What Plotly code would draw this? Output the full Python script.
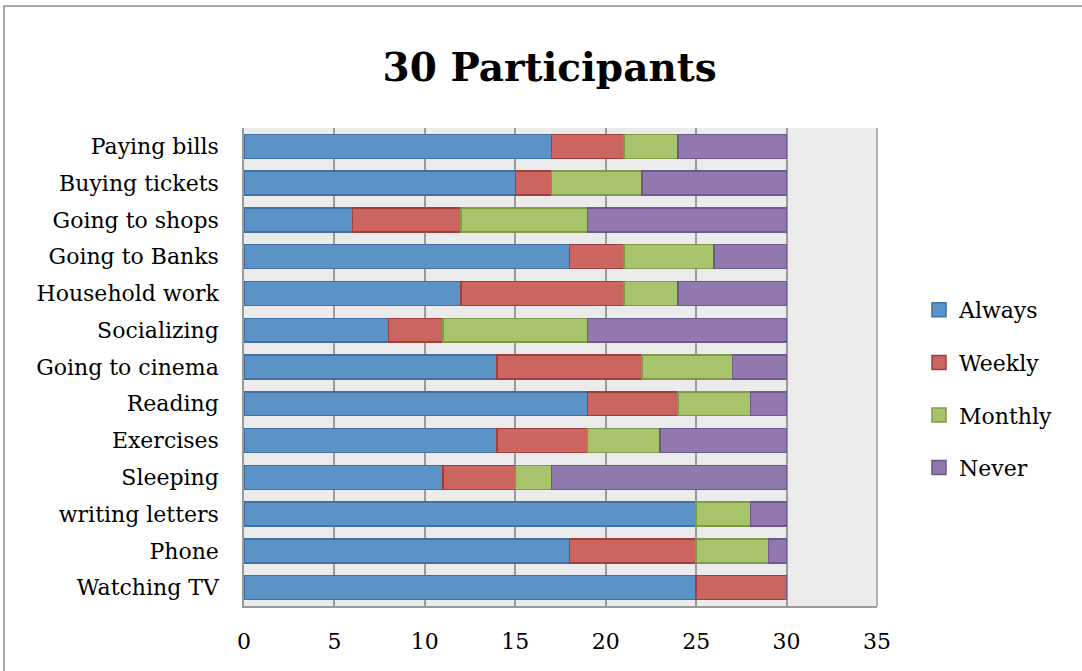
import plotly.graph_objects as go

categories = ["Watching TV", "Phone", "writing letters", "Sleeping", "Exercises", "Reading",
              "Going to cinema", "Socializing", "Household work", "Going to Banks",
              "Going to shops", "Buying tickets", "Paying bills"]
always = [25, 18, 25, 11, 14, 19, 14, 8, 12, 18, 6, 15, 17]
weekly = [5, 7, 0, 4, 5, 5, 8, 3, 9, 3, 6, 2, 4]
monthly = [0, 4, 3, 2, 4, 4, 5, 8, 3, 5, 7, 5, 3]
never = [0, 1, 2, 13, 7, 2, 3, 11, 6, 4, 11, 8, 6]
x_ticks = [0, 5, 10, 15, 20, 25, 30, 35]

series = [
    ("Always", always, "#5b93c8", "#41719c"),
    ("Weekly", weekly, "#cc6560", "#a0403c"),
    ("Monthly", monthly, "#a8c46a", "#7f9a48"),
    ("Never", never, "#9179b0", "#6c5a8a"),
]

FONT = "DejaVu Serif"
fig = go.Figure()
for i, (name, vals, fill, line) in enumerate(series):
    fig.add_trace(go.Bar(
        y=categories, x=vals, name=name, orientation="h",
        marker=dict(color=fill, line=dict(color=line, width=1.5)),
        legendgroup=f"g{i}", showlegend=False,
    ))
# legend entries with larger square swatches
for i, (name, vals, fill, line) in enumerate(series):
    fig.add_trace(go.Scatter(
        x=[None], y=[None], mode="markers", name=name,
        marker=dict(symbol="square", size=14, color=fill, line=dict(color=line, width=1.5)),
        legendgroup=f"g{i}", showlegend=True, hoverinfo="skip",
    ))

L, R, T, B = 244, 877, 128, 606
W, H = 1082, 671

def px_to_paper_x(px):
    return (px - L) / (R - L)

def px_to_paper_y(py):
    return (B - py) / (B - T)

fig.update_layout(
    width=W, height=H,
    margin=dict(l=L, r=W - R, t=T, b=H - B, autoexpand=False),
    barmode="stack", bargap=0.35,
    paper_bgcolor="white", plot_bgcolor="#ebebeb",
    font=dict(family=FONT, size=22, color="black"),
    title=dict(text="<b>30 Participants</b>", x=0.508, xanchor="center",
               y=1 - 67 / H, yanchor="middle",
               font=dict(family=FONT, size=39, color="black")),
    legend=dict(x=px_to_paper_x(919), xanchor="left", y=px_to_paper_y(289), yanchor="top",
                traceorder="grouped", tracegroupgap=21, font=dict(size=22),
                itemwidth=30, itemsizing="trace", bgcolor="rgba(0,0,0,0)"),
    xaxis=dict(range=[0, 35], tickvals=x_ticks, showgrid=True, gridcolor="#9a9a9a",
               gridwidth=1.5, zeroline=False, showline=True, linecolor="#9a9a9a",
               linewidth=1.5, ticks="", ticklabelstandoff=15, mirror=False,
               fixedrange=True),
    yaxis=dict(categoryorder="array", categoryarray=categories, showline=True,
               linecolor="#9a9a9a", linewidth=1.5, ticks="", ticklabelstandoff=19,
               showgrid=False, fixedrange=True),
    shapes=[dict(type="rect", xref="paper", yref="paper",
                 x0=px_to_paper_x(4), x1=px_to_paper_x(1100),
                 y0=px_to_paper_y(700), y1=px_to_paper_y(6),
                 line=dict(color="#8c8c8c", width=1.5), fillcolor="rgba(0,0,0,0)",
                 layer="below"),
            dict(type="line", xref="paper", yref="paper", x0=1, x1=1, y0=0, y1=1,
                 line=dict(color="#9a9a9a", width=1.5))],
)

fig.write_html("out.html")
